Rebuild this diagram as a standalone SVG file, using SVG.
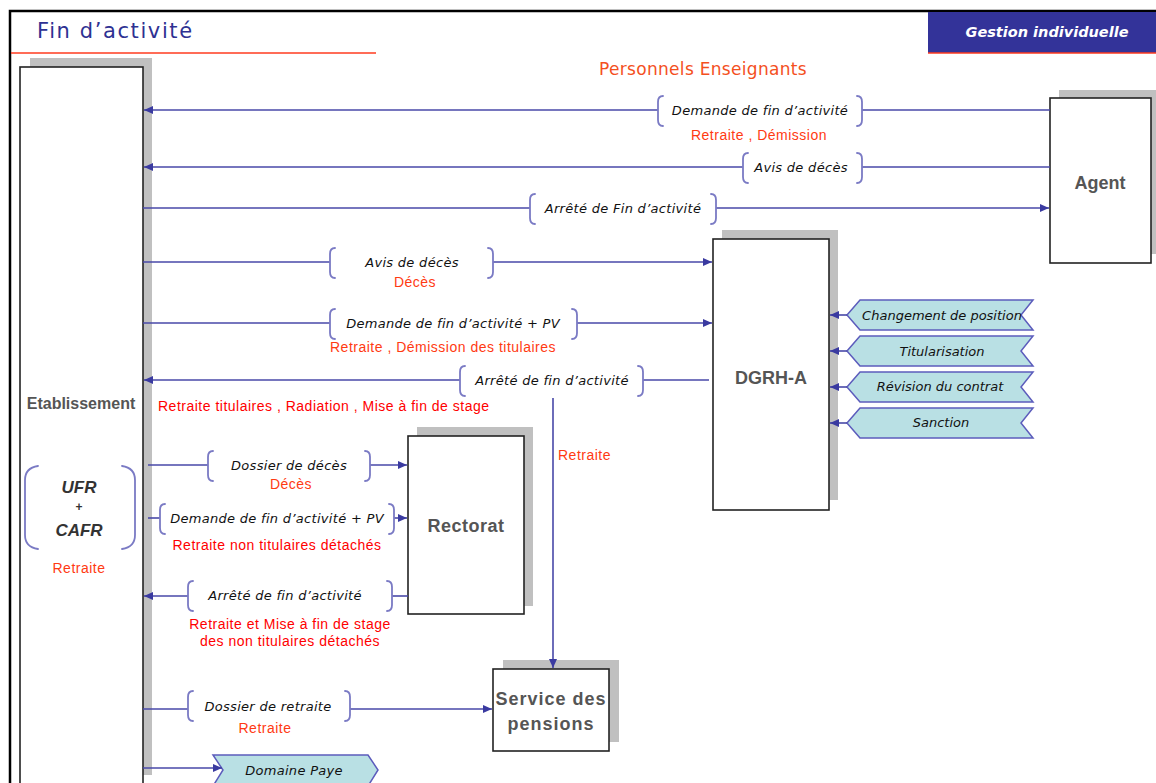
<svg xmlns="http://www.w3.org/2000/svg" width="1156" height="783" viewBox="0 0 1156 783">
  <style>
    .frame { fill: none; stroke: #000; stroke-width: 2.5; }
    .shadow { fill: #c0c0c0; }
    .box { fill: #fff; stroke: #222; stroke-width: 1.6; }
    .boxlabel { font-family: "Liberation Sans", Arial, sans-serif; font-weight: bold; font-size: 18px; fill: #555; text-anchor: middle; }
    .conn { fill: none; stroke: #4848a8; stroke-width: 1.6; }
    .brace { fill: none; stroke: #7a7ac4; stroke-width: 1.8; stroke-linecap: round; }
    .flow { font-family: "DejaVu Sans", sans-serif; font-style: italic; font-size: 13px; letter-spacing: 0.3px; fill: #111; text-anchor: middle; }
    .note { font-family: "Liberation Sans", Arial, sans-serif; font-size: 14px; letter-spacing: 0.5px; fill: #ff3a12; text-anchor: middle; }
    .note-red { font-family: "Liberation Sans", Arial, sans-serif; font-size: 14px; letter-spacing: 0.5px; fill: #ff0000; text-anchor: middle; }
    .start { text-anchor: start; }
    .tab { fill: #b9e0e4; stroke: #5c5cbc; stroke-width: 1.5; }
  </style>
  <defs>
    <marker id="arrow" markerUnits="userSpaceOnUse" markerWidth="10" markerHeight="8" refX="9" refY="4" orient="auto">
      <path d="M0,0 L9,4 L0,8 z" fill="#3a3aa0"/>
    </marker>
  </defs>

  <rect width="1156" height="783" fill="#fff"/>

  <!-- page frame and header -->
  <g id="header">
    <path class="frame" d="M10,783 V11 H1156"/>
    <text x="37" y="38" font-family="DejaVu Sans, sans-serif" font-size="21" letter-spacing="1.6" fill="#2e3192">Fin d’activité</text>
    <line x1="11" y1="53" x2="376" y2="53" stroke="#ff3b1f" stroke-width="1.5"/>
    <rect x="928" y="12" width="228" height="41" fill="#333399"/>
    <line x1="928" y1="53" x2="1156" y2="53" stroke="#ff3b1f" stroke-width="1.5"/>
    <text x="1047" y="37" font-family="DejaVu Sans, sans-serif" font-weight="bold" font-style="italic" font-size="14.5" fill="#fff" text-anchor="middle">Gestion individuelle</text>
    <text x="703" y="75" font-family="DejaVu Sans, sans-serif" font-size="17" letter-spacing="0.3" fill="#f4501e" text-anchor="middle">Personnels Enseignants</text>
  </g>

  <!-- Etablissement -->
  <g id="etablissement">
    <rect class="shadow" x="30" y="58" width="122" height="717"/>
    <rect class="box" x="20" y="67" width="123" height="730"/>
    <text class="boxlabel" x="81" y="409" style="font-size:16px">Etablissement</text>
    <path class="brace" d="M38,466 Q25,468 25,480 V535 Q25,547 38,549"/>
    <path class="brace" d="M122,466 Q135,468 135,480 V535 Q135,547 122,549"/>
    <text x="79" y="493" font-family="Liberation Sans, Arial, sans-serif" font-weight="bold" font-style="italic" font-size="17" fill="#333" text-anchor="middle">UFR</text>
    <text x="79" y="511" font-family="Liberation Sans, Arial, sans-serif" font-weight="bold" font-size="12" fill="#333" text-anchor="middle">+</text>
    <text x="79" y="536" font-family="Liberation Sans, Arial, sans-serif" font-weight="bold" font-style="italic" font-size="17" fill="#333" text-anchor="middle">CAFR</text>
    <text class="note" x="79" y="573">Retraite</text>
  </g>

  <!-- Agent -->
  <g id="agent">
    <rect class="shadow" x="1059" y="90" width="97" height="164"/>
    <rect class="box" x="1050" y="98" width="101" height="165"/>
    <text class="boxlabel" x="1100" y="189">Agent</text>
  </g>

  <!-- DGRH-A -->
  <g id="dgrh-a">
    <rect class="shadow" x="722" y="230" width="116" height="270"/>
    <rect class="box" x="713" y="239" width="116" height="271"/>
    <text class="boxlabel" x="771" y="384">DGRH-A</text>
  </g>

  <!-- Rectorat -->
  <g id="rectorat">
    <rect class="shadow" x="417" y="427" width="116" height="179"/>
    <rect class="box" x="408" y="436" width="116" height="178"/>
    <text class="boxlabel" x="466" y="532" letter-spacing="0.5">Rectorat</text>
  </g>

  <!-- Service des pensions -->
  <g id="service-pensions">
    <rect class="shadow" x="503" y="660" width="116" height="82"/>
    <rect class="box" x="493" y="669" width="116" height="82"/>
    <text class="boxlabel" x="551" y="705" letter-spacing="1">Service des</text>
    <text class="boxlabel" x="551" y="730" letter-spacing="1">pensions</text>
  </g>

  <!-- DGRH-A inputs -->
  <g id="tab-changement-position">
    <polygon class="tab" points="847,315 860,300 1033,300 1021,315 1033,330 860,330"/>
    <text class="flow" x="942" y="320" style="letter-spacing:0">Changement de position</text>
  </g>
  <g id="tab-titularisation">
    <polygon class="tab" points="847,351 860,336 1033,336 1021,351 1033,366 860,366"/>
    <text class="flow" x="942" y="356" style="letter-spacing:0">Titularisation</text>
  </g>
  <g id="tab-revision-contrat">
    <polygon class="tab" points="847,387 860,372 1033,372 1021,387 1033,402 860,402"/>
    <text class="flow" x="940" y="391" style="letter-spacing:0">Révision du contrat</text>
  </g>
  <g id="tab-sanction">
    <polygon class="tab" points="847,423 860,408 1033,408 1021,423 1033,438 860,438"/>
    <text class="flow" x="941" y="427" style="letter-spacing:0">Sanction</text>
  </g>

  <!-- Domaine Paye -->
  <g id="domaine-paye">
    <polygon class="tab" points="213,755 368,755 378,770 368,786 213,786 223,770"/>
    <text class="flow" x="294" y="775">Domaine Paye</text>
  </g>

  <!-- connectors -->
  <g id="connectors">
    <!-- Agent -> Etablissement : demande de fin d'activité -->
    <path class="conn" d="M1050,110 H862"/>
    <path class="conn" d="M658,110 H144" marker-end="url(#arrow)"/>
    <path class="brace" d="M663,96 Q658,96 658,102 V120 Q658,126 663,126"/>
    <path class="brace" d="M857,96 Q862,96 862,102 V120 Q862,126 857,126"/>
    <!-- Agent -> Etablissement : avis de décès -->
    <path class="conn" d="M1050,167 H862"/>
    <path class="conn" d="M743,167 H144" marker-end="url(#arrow)"/>
    <path class="brace" d="M748,153 Q743,153 743,159 V177 Q743,183 748,183"/>
    <path class="brace" d="M857,153 Q862,153 862,159 V177 Q862,183 857,183"/>
    <!-- Etablissement -> Agent : arrêté -->
    <path class="conn" d="M143,208 H530"/>
    <path class="conn" d="M716,208 H1049" marker-end="url(#arrow)"/>
    <path class="brace" d="M535,194 Q530,194 530,200 V218 Q530,224 535,224"/>
    <path class="brace" d="M711,194 Q716,194 716,200 V218 Q716,224 711,224"/>
    <!-- Etablissement -> DGRH-A : avis de décès -->
    <path class="conn" d="M143,262 H330"/>
    <path class="conn" d="M493,262 H712" marker-end="url(#arrow)"/>
    <path class="brace" d="M335,248 Q330,248 330,254 V272 Q330,278 335,278"/>
    <path class="brace" d="M488,248 Q493,248 493,254 V272 Q493,278 488,278"/>
    <!-- Etablissement -> DGRH-A : demande + PV -->
    <path class="conn" d="M143,323 H330"/>
    <path class="conn" d="M577,323 H712" marker-end="url(#arrow)"/>
    <path class="brace" d="M335,309 Q330,309 330,315 V333 Q330,339 335,339"/>
    <path class="brace" d="M572,309 Q577,309 577,315 V333 Q577,339 572,339"/>
    <!-- DGRH-A -> Etablissement : arrêté -->
    <path class="conn" d="M709,380 H643"/>
    <path class="conn" d="M460,380 H144" marker-end="url(#arrow)"/>
    <path class="brace" d="M465,366 Q460,366 460,372 V390 Q460,396 465,396"/>
    <path class="brace" d="M638,366 Q643,366 643,372 V390 Q643,396 638,396"/>
    <!-- DGRH-A -> Service des pensions -->
    <path class="conn" d="M553,398 V668" marker-end="url(#arrow)"/>
    <!-- Etablissement -> Rectorat : dossier de décès -->
    <path class="conn" d="M148,465 H208"/>
    <path class="conn" d="M370,465 H407" marker-end="url(#arrow)"/>
    <path class="brace" d="M213,451 Q208,451 208,457 V475 Q208,481 213,481"/>
    <path class="brace" d="M365,451 Q370,451 370,457 V475 Q370,481 365,481"/>
    <!-- Etablissement -> Rectorat : demande + PV -->
    <path class="conn" d="M148,518 H160"/>
    <path class="conn" d="M394,518 H407" marker-end="url(#arrow)"/>
    <path class="brace" d="M165,504 Q160,504 160,510 V528 Q160,534 165,534"/>
    <path class="brace" d="M389,504 Q394,504 394,510 V528 Q394,534 389,534"/>
    <!-- Rectorat -> Etablissement : arrêté -->
    <path class="conn" d="M408,596 H392"/>
    <path class="conn" d="M188,596 H144" marker-end="url(#arrow)"/>
    <path class="brace" d="M193,581 Q188,581 188,587 V605 Q188,611 193,611"/>
    <path class="brace" d="M387,581 Q392,581 392,587 V605 Q392,611 387,611"/>
    <!-- Etablissement -> Service des pensions : dossier de retraite -->
    <path class="conn" d="M143,709 H188"/>
    <path class="conn" d="M350,709 H492" marker-end="url(#arrow)"/>
    <path class="brace" d="M193,691 Q188,691 188,697 V715 Q188,721 193,721"/>
    <path class="brace" d="M345,691 Q350,691 350,697 V715 Q350,721 345,721"/>
    <!-- Etablissement -> Domaine Paye -->
    <path class="conn" d="M143,768 H222" marker-end="url(#arrow)"/>
    <!-- inputs into DGRH-A -->
    <path class="conn" d="M847,315 H830" marker-end="url(#arrow)"/>
    <path class="conn" d="M847,351 H830" marker-end="url(#arrow)"/>
    <path class="conn" d="M847,387 H830" marker-end="url(#arrow)"/>
    <path class="conn" d="M847,423 H830" marker-end="url(#arrow)"/>
  </g>

  <!-- connector labels -->
  <g id="connector-labels">
    <text class="flow" x="760" y="115">Demande de fin d’activité</text>
    <text class="note" x="759" y="140">Retraite , Démission</text>
    <text class="flow" x="801" y="172">Avis de décès</text>
    <text class="flow" x="623" y="213">Arrêté de Fin d’activité</text>
    <text class="flow" x="412" y="267">Avis de décès</text>
    <text class="note" x="415" y="287">Décès</text>
    <text class="flow" x="453" y="328">Demande de fin d’activité + PV</text>
    <text class="note" x="443" y="352">Retraite , Démission des titulaires</text>
    <text class="flow" x="552" y="385">Arrêté de fin d’activité</text>
    <text class="note-red start" x="158" y="411">Retraite titulaires , Radiation , Mise à fin de stage</text>
    <text class="note start" x="558" y="460">Retraite</text>
    <text class="flow" x="289" y="470">Dossier de décès</text>
    <text class="note" x="291" y="489">Décès</text>
    <text class="flow" x="277" y="523">Demande de fin d’activité + PV</text>
    <text class="note-red" x="277" y="550">Retraite non titulaires détachés</text>
    <text class="flow" x="285" y="600">Arrêté de fin d’activité</text>
    <text class="note-red" x="290" y="629">Retraite et Mise à fin de stage</text>
    <text class="note-red" x="290" y="646">des non titulaires détachés</text>
    <text class="flow" x="268" y="711">Dossier de retraite</text>
    <text class="note" x="265" y="733">Retraite</text>
  </g>
</svg>
